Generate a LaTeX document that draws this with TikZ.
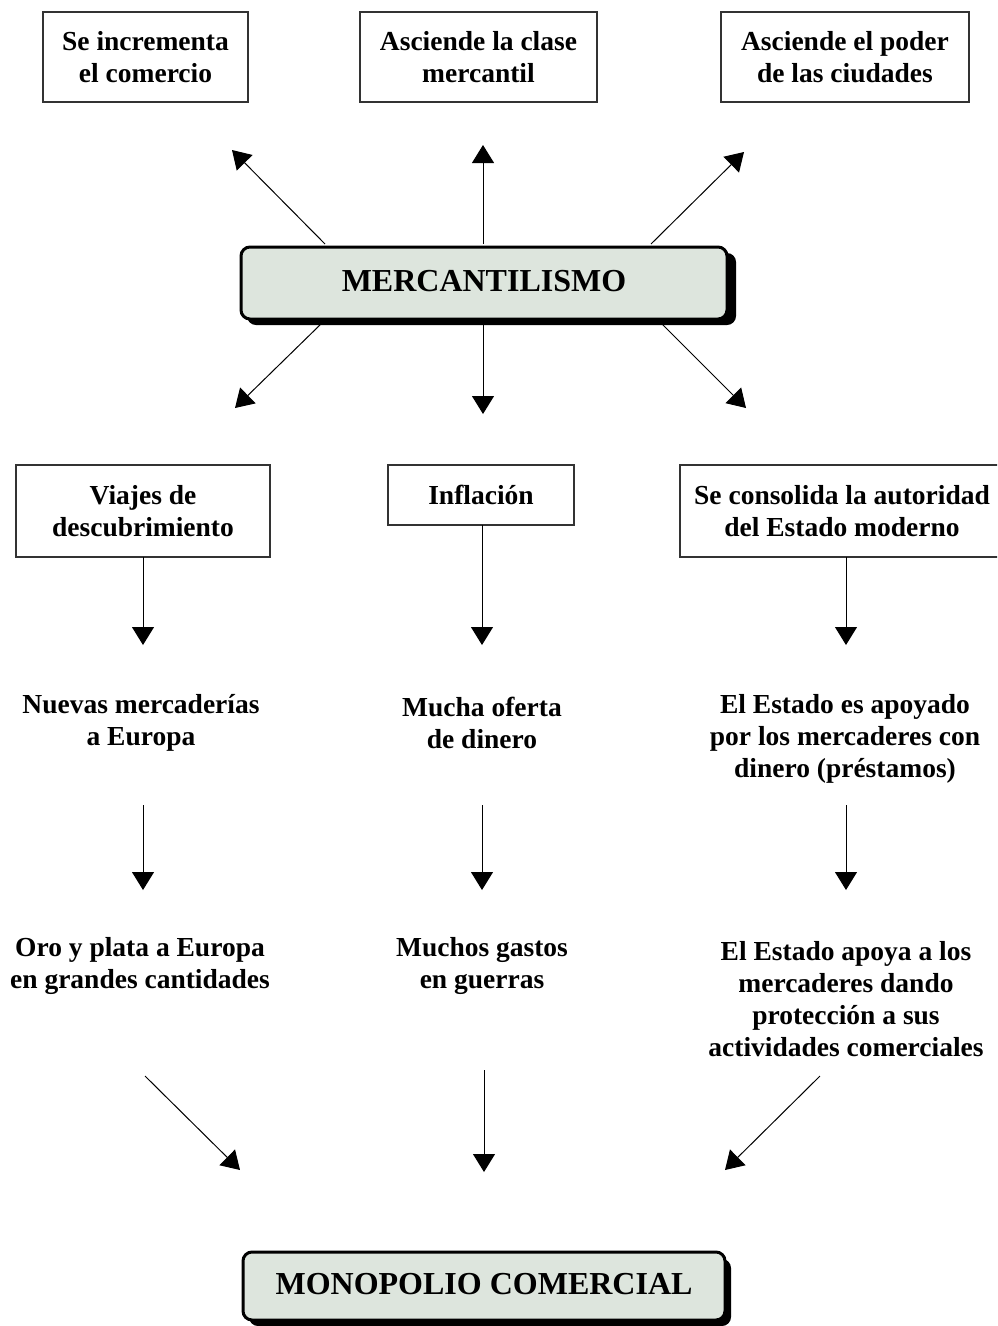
\documentclass[tikz,border=0pt]{standalone}
\usepackage{fontspec}
\setmainfont{Liberation Serif}
\usetikzlibrary{arrows.meta}
\definecolor{mint}{RGB}{221,229,221}
\begin{document}
\begin{tikzpicture}[x=1pt,y=-1pt,
  txt/.style={font=\bfseries\fontsize{27.5}{32}\selectfont, align=center, inner sep=0pt},
  plainbox/.style={txt, draw=black!80, line width=1.3pt, inner sep=0pt},
  bigbox/.style={font=\bfseries\fontsize{32}{36}\selectfont, draw=black, line width=3pt, fill=mint, rounded corners=9pt, inner sep=0pt},
  shadow/.style={fill=black, rounded corners=9pt},
  arr/.style={line width=1pt, -{Triangle[length=18pt,width=22pt]}}]
\useasboundingbox (0,0) rectangle (997,1326);
\clip (0,0) rectangle (997,1326);
\fill[white] (0,0) rectangle (997,1326);
% top boxes
\node[plainbox, minimum width=205pt, minimum height=90pt] (t1) at (145.5,57) {Se incrementa\\el comercio};
\node[plainbox, minimum width=237pt, minimum height=90pt] (t2) at (478.5,57) {Asciende la clase\\mercantil};
\node[plainbox, minimum width=248pt, minimum height=90pt] (t3) at (845,57) {Asciende el poder\\de las ciudades};
% mercantilismo
\fill[shadow] (247,253) rectangle (736,325);
\node[bigbox, minimum width=486pt, minimum height=72pt] (merc) at (484,283) {\raisebox{5pt}{MERCANTILISMO}};
% monopolio
\fill[shadow] (249,1259) rectangle (731,1326);
\node[bigbox, minimum width=482pt, minimum height=68pt] (mono) at (484,1286) {\raisebox{4pt}{MONOPOLIO COMERCIAL}};
% arrow coordinates up
\coordinate (u1s) at (325,244); \coordinate (u1e) at (232,150);
\coordinate (u2s) at (483,244); \coordinate (u2e) at (483,145);
\coordinate (u3s) at (651,244); \coordinate (u3e) at (744,152);
\draw[arr] (u1s) -- (u1e);
\draw[arr] (u2s) -- (u2e);
\draw[arr] (u3s) -- (u3e);
% arrows down
\coordinate (d1s) at (322,323); \coordinate (d1e) at (235,408);
\coordinate (d2s) at (483,323); \coordinate (d2e) at (483,414);
\coordinate (d3s) at (661,323); \coordinate (d3e) at (746,408);
\draw[arr] (d1s) -- (d1e);
\draw[arr] (d2s) -- (d2e);
\draw[arr] (d3s) -- (d3e);
% row boxes
\node[plainbox, minimum width=254pt, minimum height=92pt] (v) at (143,511) {Viajes de\\descubrimiento};
\node[plainbox, minimum width=186pt, minimum height=60pt] (inf) at (481,495) {Inflación};
\draw[black!80, line width=1.3pt] (1010,465) -- (680,465) -- (680,557) -- (1010,557);
\node[txt] (est) at (842,511) {Se consolida la autoridad\\del Estado moderno};
% second row
\node[txt] (nue) at (141,723) {Nuevas mercaderías\\a Europa};
\node[txt] (muc) at (482,723) {Mucha oferta\\de dinero};
\node[txt] (apo) at (845,739) {El Estado es apoyado\\por los mercaderes con\\dinero (préstamos)};
\coordinate (a1s) at (143,557); \coordinate (a1e) at (143,645);
\coordinate (a2s) at (482,525); \coordinate (a2e) at (482,645);
\coordinate (a3s) at (846,557); \coordinate (a3e) at (846,645);
\draw[arr] (a1s) -- (a1e);
\draw[arr] (a2s) -- (a2e);
\draw[arr] (a3s) -- (a3e);
% third row
\node[txt] (oro) at (140,966) {Oro y plata a Europa\\en grandes cantidades};
\node[txt] (gas) at (482,966) {Muchos gastos\\en guerras};
\node[txt] (pro) at (846,999) {El Estado apoya a los\\mercaderes dando\\protección a sus\\actividades comerciales};
\coordinate (b1s) at (143,805); \coordinate (b1e) at (143,890);
\coordinate (b2s) at (482,805); \coordinate (b2e) at (482,890);
\coordinate (b3s) at (846,805); \coordinate (b3e) at (846,890);
\draw[arr] (b1s) -- (b1e);
\draw[arr] (b2s) -- (b2e);
\draw[arr] (b3s) -- (b3e);
% final arrows
\coordinate (c1s) at (145,1076); \coordinate (c1e) at (240,1170);
\coordinate (c2s) at (484,1070); \coordinate (c2e) at (484,1172);
\coordinate (c3s) at (820,1076); \coordinate (c3e) at (725,1170);
\draw[arr] (c1s) -- (c1e);
\draw[arr] (c2s) -- (c2e);
\draw[arr] (c3s) -- (c3e);
\end{tikzpicture}
\end{document}
